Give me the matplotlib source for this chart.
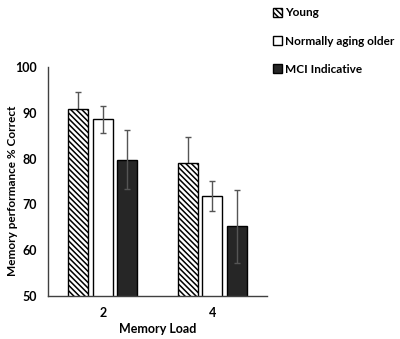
import numpy as np
import matplotlib.pyplot as plt

plt.rcParams['font.family'] = ['Lato', 'DejaVu Sans']
plt.rcParams['hatch.linewidth'] = 1.1

loads = ['2', '4']
groups = ['Young', 'Normally aging older', 'MCI Indicative']
means = {
    'Young': [90.9, 79.0],
    'Normally aging older': [88.6, 71.8],
    'MCI Indicative': [79.8, 65.2],
}
errors = {
    'Young': [3.6, 5.7],
    'Normally aging older': [2.9, 3.3],
    'MCI Indicative': [6.4, 7.9],
}
colors = ['white', 'white', '#262626']
hatches = ['\\\\\\\\\\\\', None, None]

fig = plt.figure(figsize=(4.0, 3.39), dpi=100)
ax = fig.add_axes([0.12, 0.127, 0.5475, 0.675])

x = np.arange(len(loads))
width = 0.183
step = 0.225
for i, g in enumerate(groups):
    pos = x + (i - 1) * step
    ax.bar(pos, means[g], width, color=colors[i], edgecolor='black',
           hatch=hatches[i], linewidth=1.0, label=g, zorder=2)
    ax.errorbar(pos, means[g], yerr=errors[g], fmt='none', ecolor='#555555',
                elinewidth=1.0, capsize=2.5, capthick=1.0,
                zorder=1 if i == 0 else 3)

ax.set_ylim(50, 100)
ax.set_xlim(-0.5, 1.5)
ax.set_yticks(range(50, 101, 10))
ax.set_xticks(x)
ax.set_xticklabels(loads)
ax.tick_params(length=0, labelsize=9, pad=8)
for lbl in ax.get_xticklabels() + ax.get_yticklabels():
    lbl.set_fontweight('bold')
ax.set_xlabel('Memory Load', fontsize=9, fontweight='bold')
ax.set_ylabel('Memory performance % Correct', fontsize=8.5, fontweight='bold')
ax.xaxis.set_label_coords(0.5, -0.12)
ax.yaxis.set_label_coords(-0.135, 0.46)
for s in ['top', 'right']:
    ax.spines[s].set_visible(False)
for s in ['left', 'bottom']:
    ax.spines[s].set_color('#404040')
    ax.spines[s].set_linewidth(1.0)

fig.legend(loc='upper left', bbox_to_anchor=(0.682, 0.978), frameon=False,
           prop={'weight': 'bold', 'size': 8.5}, handlelength=0.75,
           handleheight=0.75, handletextpad=0.25, labelspacing=1.45,
           borderpad=0, borderaxespad=0)

fig.savefig('out.png', dpi=100)
